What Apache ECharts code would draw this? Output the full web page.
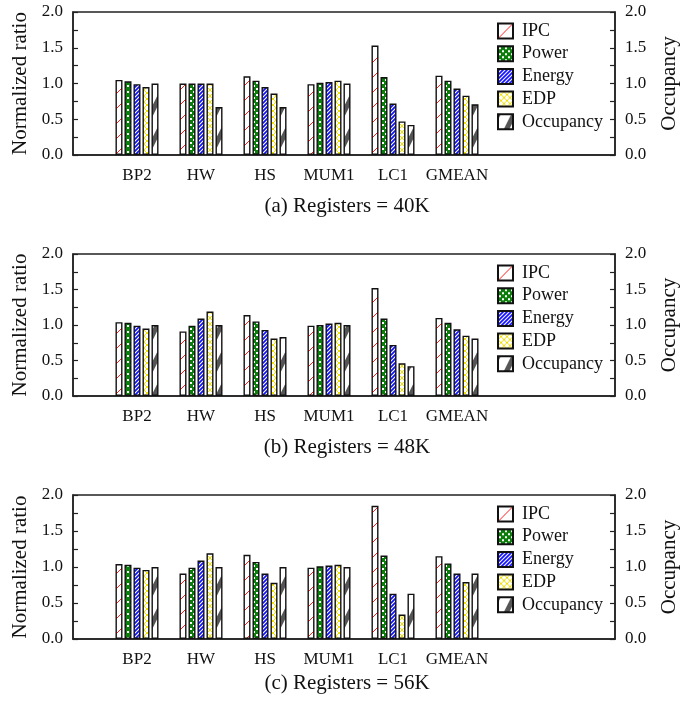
<!DOCTYPE html>
<html>
<head>
<meta charset="utf-8">
<script src="https://cdn.jsdelivr.net/npm/echarts@6/dist/echarts.min.js"></script>
<style>
  html, body { margin: 0; padding: 0; background: #fff; }
  #chart { width: 694px; height: 704px; }
</style>
</head>
<body>
<div id="chart"></div>
<script>
// categories and series
var cats = ['BP2', 'HW', 'HS', 'MUM1', 'LC1', 'GMEAN'];
var seriesNames = ['IPC', 'Power', 'Energy', 'EDP', 'Occupancy'];
var yTicks = [0, 0.5, 1.0, 1.5, 2.0];
var captions = ['(a) Registers = 40K', '(b) Registers = 48K', '(c) Registers = 56K'];

// Registers = 40K
var ipc40 = [1.05, 1.00, 1.10, 0.99, 1.53, 1.11];
var power40 = [1.03, 1.00, 1.04, 1.01, 1.09, 1.04];
var energy40 = [0.99, 1.00, 0.95, 1.02, 0.72, 0.93];
var edp40 = [0.95, 1.00, 0.86, 1.04, 0.47, 0.83];
var occ40 = [1.00, 0.67, 0.67, 1.00, 0.42, 0.71];

// Registers = 48K
var ipc48 = [1.04, 0.91, 1.14, 0.99, 1.52, 1.10];
var power48 = [1.03, 0.99, 1.05, 1.00, 1.09, 1.03];
var energy48 = [0.99, 1.09, 0.93, 1.02, 0.72, 0.94];
var edp48 = [0.95, 1.19, 0.81, 1.03, 0.46, 0.85];
var occ48 = [1.00, 1.00, 0.83, 1.00, 0.42, 0.81];

// Registers = 56K
var ipc56 = [1.04, 0.91, 1.17, 0.99, 1.85, 1.15];
var power56 = [1.03, 0.99, 1.07, 1.01, 1.16, 1.05];
var energy56 = [0.99, 1.09, 0.91, 1.02, 0.63, 0.91];
var edp56 = [0.96, 1.19, 0.78, 1.03, 0.34, 0.79];
var occ56 = [1.00, 1.00, 1.00, 1.00, 0.63, 0.91];

var panels = [
    [ipc40, power40, energy40, edp40, occ40],
    [ipc48, power48, energy48, edp48, occ48],
    [ipc56, power56, energy56, edp56, occ56]
];

var FONT = "'Liberation Serif', 'DejaVu Serif', serif";
var gridTops = [12, 254, 495];
var gridHeights = [143, 142, 144];
var captionY = [206, 447, 683];

// hatch patterns
function makeTile(w, h, draw) {
    var c = document.createElement('canvas');
    c.width = w; c.height = h;
    var ctx = c.getContext('2d');
    draw(ctx, w, h);
    return { image: c, repeat: 'repeat' };
}
var patIPC = makeTile(15, 15, function (ctx, w, h) {
    ctx.fillStyle = '#fff'; ctx.fillRect(0, 0, w, h);
    ctx.strokeStyle = '#ff2020'; ctx.lineWidth = 1;
    ctx.beginPath(); ctx.moveTo(0, h); ctx.lineTo(w, 0); ctx.stroke();
});
var patPower = makeTile(6, 6, function (ctx, w, h) {
    ctx.fillStyle = '#0b7d0b'; ctx.fillRect(0, 0, w, h);
    ctx.fillStyle = '#fff';
    ctx.fillRect(1, 1, 2, 2);
    ctx.fillRect(4, 4, 2, 2);
});
var patEnergy = makeTile(4, 4, function (ctx, w, h) {
    ctx.fillStyle = '#1010ff'; ctx.fillRect(0, 0, w, h);
    ctx.strokeStyle = '#fff'; ctx.lineWidth = 1.1;
    ctx.beginPath();
    ctx.moveTo(0, h); ctx.lineTo(w, 0);
    ctx.moveTo(-1, 1); ctx.lineTo(1, -1);
    ctx.moveTo(w - 1, h + 1); ctx.lineTo(w + 1, h - 1);
    ctx.stroke();
});
var patEDP = makeTile(6, 6, function (ctx, w, h) {
    ctx.fillStyle = '#fff'; ctx.fillRect(0, 0, w, h);
    ctx.strokeStyle = '#f0e000'; ctx.lineWidth = 1;
    ctx.beginPath();
    ctx.moveTo(0, 0); ctx.lineTo(w, h);
    ctx.moveTo(0, h); ctx.lineTo(w, 0);
    ctx.stroke();
});
var patOcc = makeTile(16, 32, function (ctx, w, h) {
    ctx.fillStyle = '#fff'; ctx.fillRect(0, 0, w, h);
    ctx.strokeStyle = '#555'; ctx.lineWidth = 5;
    ctx.beginPath();
    ctx.moveTo(-w, h * 2); ctx.lineTo(w * 2, -h);
    ctx.moveTo(0, h * 2); ctx.lineTo(w * 2, 0);
    ctx.moveTo(-w, h); ctx.lineTo(w, -h);
    ctx.stroke();
});
var patterns = [patIPC, patPower, patEnergy, patEDP, patOcc];

var chart = echarts.init(document.getElementById('chart'));

var grid = [], xAxis = [], yAxis = [], series = [], legend = [], graphic = [];

panels.forEach(function (vals, p) {
    grid.push({
        left: 73, right: 79, top: gridTops[p], height: gridHeights[p],
        show: true, borderColor: '#222', borderWidth: 1.5, backgroundColor: 'transparent'
    });
    xAxis.push({
        type: 'value', gridIndex: p, min: 0, max: 542 / 64, interval: 1,
        splitLine: { show: false },
        axisTick: { show: false },
        axisLine: { show: true, lineStyle: { color: '#222', width: 1.5 } },
        axisLabel: {
            margin: 12, fontSize: 17, color: '#111', fontFamily: FONT,
            showMaxLabel: false,
            formatter: function (v) { return cats[v - 1] || ''; }
        }
    });
    [0, 1].forEach(function (side) {
        yAxis.push({
            type: 'value', gridIndex: p, position: side ? 'right' : 'left',
            min: yTicks[0], max: yTicks[yTicks.length - 1], interval: 0.5,
            name: side ? 'Occupancy' : 'Normalized ratio',
            nameLocation: 'middle', nameGap: side ? 44 : 42,
            nameTextStyle: { fontSize: 21, color: '#111', fontFamily: FONT },
            splitLine: { show: false },
            axisLine: { show: true, lineStyle: { color: '#222', width: 1.5 } },
            axisTick: { show: true, inside: true, length: 5, lineStyle: { color: '#222', width: 1.2 } },
            minorTick: { show: true, splitNumber: 2, length: 5, lineStyle: { color: '#222', width: 1.2 } },
            axisLabel: {
                margin: 10, fontSize: 17, color: '#111', fontFamily: FONT,
                formatter: function (v) { return v.toFixed(1); }
            }
        });
    });
    vals.forEach(function (arr, s) {
        series.push({
            type: 'bar',
            name: seriesNames[s],
            xAxisIndex: p,
            yAxisIndex: p * 2 + (s === 4 ? 1 : 0),
            barWidth: 7,
            barGap: '28.6%',
            data: arr.map(function (v, i) { return [i + 1, v]; }),
            itemStyle: { color: patterns[s], borderColor: '#111', borderWidth: 1.4 },
            emphasis: { disabled: true }
        });
    });
    legend.push({
        orient: 'vertical', left: 497, top: gridTops[p] + 10,
        itemWidth: 15, itemHeight: 15, itemGap: 4.7, padding: 0,
        icon: 'rect', selectedMode: false,
        data: seriesNames,
        textStyle: { fontSize: 18, color: '#111', fontFamily: FONT, lineHeight: 15, padding: [0, 0, 0, 4] }
    });
    graphic.push({
        type: 'text', x: 347, y: captionY[p],
        style: {
            text: captions[p], fontSize: 21, fontFamily: FONT, fill: '#111',
            textAlign: 'center', textVerticalAlign: 'middle'
        }
    });
});

var option = {
    animation: false,
    grid: grid,
    xAxis: xAxis,
    yAxis: yAxis,
    legend: legend,
    series: series,
    graphic: graphic
};

option && chart.setOption(option);
</script>
</body>
</html>
